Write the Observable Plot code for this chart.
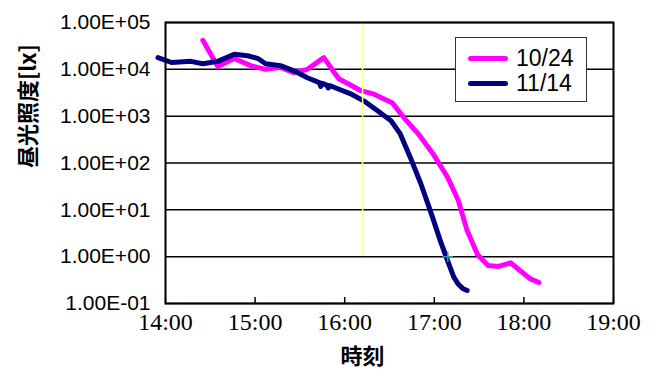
<!DOCTYPE html>
<html><head><meta charset="utf-8">
<script src="https://cdn.jsdelivr.net/npm/d3@7"></script>
<script src="https://cdn.jsdelivr.net/npm/@observablehq/plot@0.6"></script>
<style>
body{margin:0;background:#fff;}
#wrap{position:relative;width:658px;height:376px;overflow:hidden;}
#wrap svg text.serif{font-family:"Liberation Serif","Times New Roman","DejaVu Serif",serif !important;}
.legend{position:absolute;left:455px;top:37px;width:132px;height:65px;border:1px solid #333;background:#fff;box-sizing:border-box;font-family:"Liberation Sans",Arial,sans-serif;font-size:23px;color:#000;}
.legend .row{position:absolute;left:12px;height:26px;display:flex;align-items:center;}
.legend .sw{width:40px;height:5px;border-radius:3px;margin-right:8px;}
</style></head><body><div id="wrap"></div>
<script>
// Series 10/24 (magenta)
const times1024 = ["14:25","14:35","14:46","14:57","15:07","15:17","15:26","15:35","15:46","15:56","16:11","16:19","16:32","16:40","16:49","16:59","17:09","17:16","17:22","17:29","17:36","17:43","17:51","17:59","18:04","18:10"];
const lux1024 = [41700,11500,17000,12000,10000,11000,8500,10000,17800,6300,3500,3000,1900,900,430,160,49,16,3.6,1.1,0.65,0.62,0.74,0.46,0.34,0.28];
// Series 11/14 (navy)
const times1114 = ["13:55","14:04","14:17","14:25","14:35","14:46","14:55","15:02","15:07","15:17","15:26","15:35","15:43","15:44","15:45","15:48","15:49","15:50","15:55","16:04","16:13","16:22","16:31","16:37","16:44","16:51","16:58","17:04","17:09","17:13","17:16","17:19","17:22"];
const lux1114 = [17800,14000,14800,13200,14800,20900,19500,17000,13200,12000,9300,6600,5200,4300,5000,4600,4000,4500,3900,3000,2100,1300,800,430,130,36,8.3,2.2,0.8,0.37,0.26,0.21,0.19];
const seriesNames = ["10/24","11/14"];
const seriesColors = ["#ff00ff","#000080"];
const xTickLabels = ["14:00","15:00","16:00","17:00","18:00","19:00"];
const yTickValues = [0.1,1,10,100,1000,10000,100000];
const sunsetTime = ["16:12"];
const sunsetRange = [1,100000];
const markTime = ["17:09"];
const markValue = [1];
const yTitle = "昼光照度[lx]";
const xTitle = "時刻";

const hours = s => { const [h,m] = s.split(":").map(Number); return h + m/60; };
const fmtE = v => { const e = Math.round(Math.log10(v)); return "1.00E" + (e < 0 ? "-" : "+") + String(Math.abs(e)).padStart(2,"0"); };

const data = [
  ...times1024.map((t,i) => ({series: seriesNames[0], x: hours(t), y: lux1024[i]})),
  ...times1114.map((t,i) => ({series: seriesNames[1], x: hours(t), y: lux1114[i]}))
];

const chart = Plot.plot({
  width: 658, height: 376,
  marginLeft: 165, marginRight: 45, marginTop: 22, marginBottom: 73,
  style: {fontFamily: "'Liberation Sans', Arial, sans-serif", background: "#fff"},
  x: {domain: [14,19]},
  y: {type: "log", domain: [0.1,100000]},
  color: {domain: seriesNames, range: seriesColors},
  marks: [
    Plot.ruleY(yTickValues, {stroke: "black", strokeWidth: 1.5}),
    Plot.axisY({ticks: yTickValues, tickFormat: fmtE, tickSize: 0, tickPadding: 15, fontSize: 21, label: null}),
    Plot.text(xTickLabels, {x: hours, frameAnchor: "bottom", dy: 26, fontSize: 24, fill: "black"}),
    Plot.axisX({ticks: xTickLabels.map(hours), tickFormat: () => "", tickSize: 6, dy: -6, strokeWidth: 1.5, label: null}),
    Plot.line(data, {x: "x", y: "y", z: "series", stroke: "series", strokeWidth: 5, strokeLinejoin: "round", strokeLinecap: "round"}),
    Plot.ruleX(sunsetTime, {x: d => hours(d), y1: sunsetRange[0], y2: sunsetRange[1], stroke: "#ffff88", strokeWidth: 1.5}),
    Plot.dot(markTime, {x: d => hours(d), y: (d,i) => markValue[i], symbol: "plus", r: 3.5, stroke: "#339999", strokeWidth: 1.5}),
    Plot.frame({stroke: "black", strokeWidth: 2}),
    Plot.text([yTitle], {frameAnchor: "left", dx: -137, dy: 5, rotate: -90, fontSize: 22, fontWeight: "bold", fill: "black"}),
    Plot.text([xTitle], {frameAnchor: "bottom", dx: -27, dy: 60, fontSize: 22, fontWeight: "bold", fill: "black"})
  ]
});
chart.querySelectorAll("text").forEach(t => {
  const s = t.textContent;
  if (xTickLabels.includes(s)) { t.classList.add("serif"); }
  if (s === yTitle || s === xTitle) { t.style.fontFamily = "'Noto Sans CJK JP', sans-serif"; }
});
const wrap = document.getElementById("wrap");
wrap.appendChild(chart);
const lg = document.createElement("div");
lg.className = "legend";
seriesNames.forEach((n,i) => {
  const r = document.createElement("div");
  r.className = "row";
  r.style.top = (i === 0 ? 7 : 32) + "px";
  r.innerHTML = `<span class="sw" style="background:${seriesColors[i]}"></span><span>${n}</span>`;
  lg.appendChild(r);
});
wrap.appendChild(lg);
</script></body></html>
